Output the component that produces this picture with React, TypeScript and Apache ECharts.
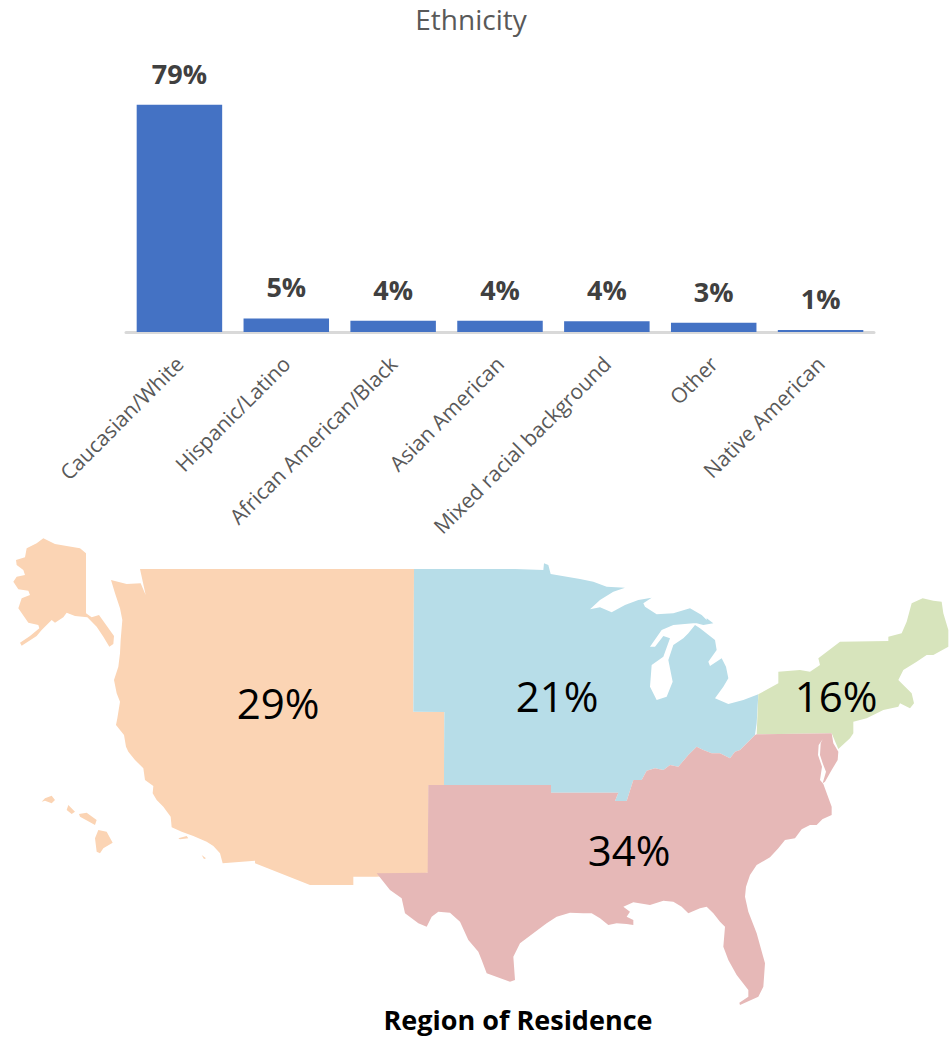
import React, { useEffect, useRef } from "react";
import * as echarts from "echarts";

const categories = ["Caucasian/White", "Hispanic/Latino", "African American/Black", "Asian American", "Mixed racial background", "Other", "Native American"];
const ethnicityValues = [79, 4.7, 3.9, 3.9, 3.7, 3.2, 0.7];
const regionNames = ["West", "Midwest", "Northeast", "South"];
const regionValues = [29, 21, 16, 34];
const regionColors = ["#fbd4b4", "#b7dde8", "#d7e4bc", "#e6b8b7"];

const crop = (ox: number, oy: number, pts: number[][]) => pts.map(([x, y]) => [ox + x / 3, oy + y / 3]);

const westMain = crop(0, 530, [[420,117],[1242,117],[1240,545],[1333,546],[1333,765],[1286,765],[1284,1028],[1130,1040],[1060,1040],[1060,1065],[930,1065],[765,1000],[765,992],[668,1000],[660,970],[640,948],[620,935],[580,918],[545,905],[515,892],[512,860],[490,830],[470,810],[458,790],[460,768],[435,750],[430,715],[405,690],[385,665],[378,650],[372,615],[348,585],[352,565],[360,515],[350,490],[342,450],[355,410],[360,370],[362,330],[367,270],[360,235],[355,220],[345,190],[333,150],[380,162],[422,160],[437,195]]);
const alaska = crop(0, 530, [[130,25],[165,42],[200,48],[240,55],[258,70],[258,250],[275,262],[297,255],[342,318],[340,342],[328,350],[310,320],[290,290],[262,262],[225,258],[200,248],[190,262],[165,278],[155,270],[125,300],[110,318],[65,347],[60,338],[90,318],[118,295],[115,285],[85,278],[55,235],[65,205],[90,195],[85,182],[55,178],[40,155],[50,140],[75,135],[70,120],[50,105],[48,90],[75,82],[80,55],[110,40]]);
const hawaii = [
  [[125,815],[135,805],[155,797],[165,810],[155,820],[135,812]],
  [[205,825],[225,845],[215,852],[200,840]],
  [[237,852],[260,848],[290,870],[285,885],[262,872],[240,860]],
  [[295,900],[320,905],[338,938],[310,955],[300,970],[290,965],[285,925]],
  [[535,925],[560,918],[565,925],[540,928]],
  [[605,975],[618,985],[612,987]],
].map((p) => crop(0, 530, p));
const westLabel = [278, 702];

const midwestMain = [
  ...crop(400, 550, [[42,57],[345,57],[430,60],[432,40],[445,45],[452,72]]),
  ...crop(580, 575, [[0,12],[40,20],[80,35],[135,38],[100,50],[60,75],[30,103],[60,97],[95,112],[135,90],[175,75],[215,68],[190,85],[195,95],[230,118],[280,115],[330,100],[365,120],[380,135]]),
  ...crop(640, 580, [[200,115],[220,130],[190,135],[170,130],[160,130],[100,135],[65,150],[30,200],[45,200],[70,168],[90,175],[70,230],[35,255],[30,320],[50,360],[80,350],[98,305],[85,240],[100,195],[130,175],[145,160],[165,135],[180,145],[225,180],[230,210],[205,245],[210,258],[245,235],[258,260],[265,295],[250,320],[225,355],[265,372],[310,360],[355,343],[350,430],[345,465],[300,510],[285,515],[270,535],[240,520],[215,520],[190,510],[170,500],[145,525],[115,560],[90,555],[70,570],[45,565],[20,572]]),
  ...crop(370, 770, [[815,30],[790,30],[770,93],[735,93],[745,68],[543,68],[543,45],[222,45],[222,0]]),
  ...crop(0, 530, [[1333,546],[1240,545]]),
];
const midwestLabel = [557, 695];

const northeastMain = [
  ...crop(640, 580, [[355,343],[415,310],[415,275],[480,270],[510,275],[540,255],[535,235],[600,185],[745,183],[745,170],[785,160],[800,125],[815,70],[848,55],[880,62],[905,65],[910,100],[925,150],[925,200],[880,225],[860,225],[830,245],[790,270],[775,300],[790,315]]),
  ...crop(800, 680, [[335,40],[342,70],[330,85],[300,70],[295,80],[250,90],[200,115],[160,125],[160,160],[150,175],[115,207],[95,160]]),
  ...crop(640, 580, [[350,463]]),
];
const northeastLabel = [836, 695];

const southMain = [
  ...crop(370, 770, [[177,45],[543,45],[543,68],[745,68],[735,93],[770,93],[790,30],[815,30]]),
  ...crop(640, 580, [[20,572],[45,565],[70,570],[90,555],[115,560],[145,525],[170,500],[190,510],[215,520],[240,520],[270,535],[285,515],[300,510],[345,465],[350,463]]),
  ...crop(800, 680, [[95,160],[100,190],[115,215],[113,240],[95,270],[75,305],[68,310],[78,275],[68,250],[60,225],[62,190],[68,178],[56,195],[54,225],[66,260],[60,300],[70,312],[95,380],[95,405],[50,425]]),
  ...crop(620, 770, [[635,130],[610,145],[590,165],[570,165],[545,178],[525,205],[495,210],[475,235],[450,262],[410,285],[390,315],[378,350],[375,380],[385,425],[410,490],[435,580],[430,650],[415,680],[360,705],[358,698],[385,680],[385,660],[350,615],[325,570],[310,530],[315,470],[300,455],[280,430],[260,410],[240,415],[205,430],[185,410],[160,395],[130,392],[90,405]]),
  ...crop(370, 770, [[790,397],[760,410],[780,425],[770,440],[790,450],[790,465],[770,462],[740,460],[715,465],[690,445],[665,430],[640,430],[600,428],[560,440],[530,460],[490,490],[450,520],[430,560],[435,630],[420,635],[350,610],[335,570],[325,545],[295,510],[270,455],[240,428],[205,425],[185,440],[170,470],[145,460],[105,430],[95,385],[60,360],[20,310],[173,308],[175,45]]),
];
const southLabel = [629, 849];

const feature = (name: string, polys: number[][][], cp: number[]) => ({
  type: "Feature",
  properties: { name, cp },
  geometry: { type: "MultiPolygon", coordinates: polys.map((p) => [[...p, p[0]]]) },
});

const outlines = {
  type: "FeatureCollection",
  features: [
    feature("West", [westMain, alaska, ...hawaii], westLabel),
    feature("Midwest", [midwestMain], midwestLabel),
    feature("Northeast", [northeastMain], northeastLabel),
    feature("South", [southMain], southLabel),
  ],
};

const font = "'Open Sans', sans-serif";

export default function App() {
  const ref = useRef<HTMLDivElement>(null);
  useEffect(() => {
    echarts.registerMap("usRegions", outlines as any);
    const chart = echarts.init(ref.current!, undefined, { renderer: "svg" });
    chart.setOption({
      animation: false,
      backgroundColor: "#ffffff",
      title: [
        { text: "Ethnicity", left: 466, top: 0, textAlign: "center", textStyle: { fontFamily: font, fontSize: 28, fontWeight: "normal", color: "#595959" } },
        { text: "Region of Residence", left: 513, top: 1001, textAlign: "center", textStyle: { fontFamily: font, fontSize: 27, fontWeight: "bold", color: "#000000" } },
      ],
      grid: { left: 126, top: 50, width: 748, height: 282 },
      xAxis: {
        type: "category",
        data: categories,
        axisTick: { show: false },
        axisLine: { lineStyle: { color: "#d9d9d9", width: 3 } },
        axisLabel: { rotate: 45, interval: 0, margin: 28, fontFamily: font, fontSize: 21, color: "#595959" },
      },
      yAxis: { type: "value", min: 0, max: 98, show: false, splitLine: { show: false } },
      series: [
        {
          type: "bar",
          data: ethnicityValues,
          barWidth: "80%",
          itemStyle: { color: "#4472c4" },
          silent: true,
          label: {
            show: true,
            position: "top",
            distance: 18,
            formatter: (p: any) => `${Math.round(p.value)}%`,
            fontFamily: font,
            fontSize: 27,
            fontWeight: "bold",
            color: "#404040",
          },
        },
        {
          type: "map",
          map: "usRegions",
          roam: false,
          silent: true,
          left: 0,
          top: 0,
          width: 949,
          height: 1038,
          aspectScale: 1,
          boundingCoords: [[0, 0], [949, 1038]],
          projection: { project: (p: number[]) => p, unproject: (p: number[]) => p },
          data: regionNames.map((name, i) => ({ name, value: regionValues[i], itemStyle: { areaColor: regionColors[i] } })),
          itemStyle: { borderWidth: 0, borderColor: "transparent" },
          label: { show: true, formatter: "{c}%", fontFamily: font, fontSize: 42, color: "#000000" },
          emphasis: { disabled: true },
        },
      ],
    });
    return () => chart.dispose();
  }, []);
  return <div ref={ref} style={{ position: "absolute", left: 0, top: 0, width: 949, height: 1038 }} />;
}
